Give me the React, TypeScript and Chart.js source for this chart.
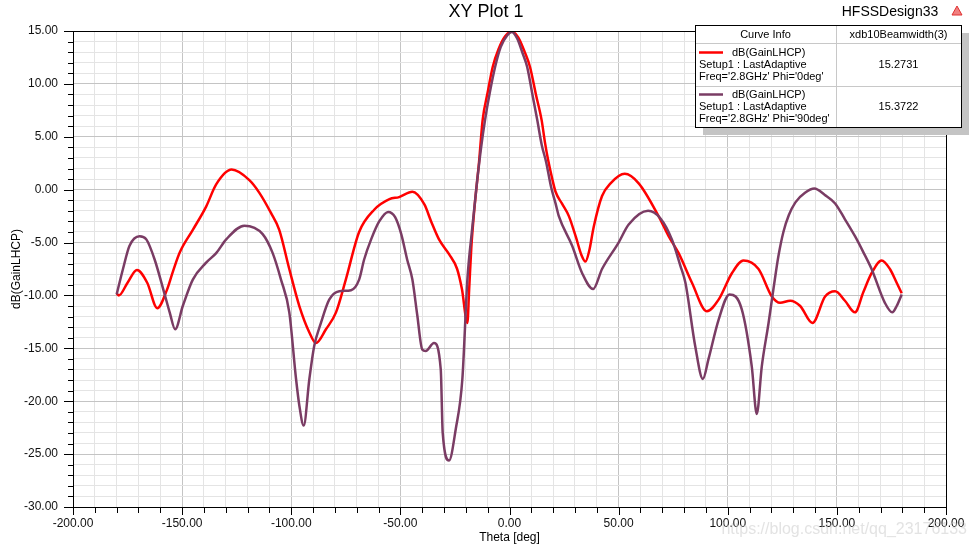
import React, { useEffect, useRef } from "react";
import { Chart, registerables } from "chart.js";

Chart.register(...registerables);

// Phi = 0deg curve (red)
const thetaRed = [
  -180, -179, -175, -170.7, -166, -161.4, -157, -154, -151, -145.1, -139, -134.4, -127.3, -119.2, -114.6,
  -109.3, -105.5, -100.9, -96.3, -91.7, -88.7, -84.1, -79.5, -75, -68.9, -62, -55, -50.6, -44.5,
  -39, -35.9, -32.3, -27.7, -24, -21.8, -19.3, -18.5, -17.5, -16, -14, -12.3, -10, -7.7, -5, -2, 1,
  4, 7, 9.4, 12.1, 14.7, 16.3, 17.7, 19.5, 21.1, 24, 27.2, 30.3, 33, 34.8, 36.5, 38.6, 42.4, 46.3,
  52.8, 59.2, 68.3, 72.9, 77.5, 83.6, 90.4, 95.8, 101.9, 107.2, 114.1, 120.2, 124, 128.6, 133.2,
  138.8, 144.6, 149.2, 153.7, 158.3, 162.1, 165.9, 170.5, 174.3, 177.4, 179.7,
];
const gainRed = [
  -9.8, -10.0, -8.8, -7.6, -8.8, -11.2, -9.5, -7.6, -5.9, -3.8, -1.6, 0.5, 1.9, 0.9, -0.3,
  -2.2, -3.8, -7.5, -11.0, -13.5, -14.5, -13.2, -11.6, -8.5, -4.0, -1.9, -0.9, -0.7, -0.2,
  -1.4, -3.0, -4.7, -6.1, -7.5, -9.4, -12.6, -9.5, -5.5, -1.6, 2.5, 6.6, 9.2, 11.6, 13.3, 14.5, 14.95,
  14.4, 13.0, 11.6, 9.0, 6.6, 4.4, 2.8, 1.1, -0.2, -1.3, -2.5, -4.4, -6.2, -6.8, -5.8, -3.5, -0.6, 0.6,
  1.5, 0.6, -2.5, -4.4, -6.0, -8.8, -11.5, -10.4, -7.9, -6.7, -7.5, -10.1, -10.7, -10.5, -11.0,
  -12.6, -10.1, -9.6, -10.5, -11.6, -9.7, -7.9, -6.7, -7.5, -8.8, -9.8,
];

// Phi = 90deg curve (purple)
const thetaPurple = [
  -180, -177.1, -174.1, -169.5, -166.4, -162.6, -158, -155.7, -153.2, -149.7, -145.1, -139, -134.4,
  -129.8, -121.5, -113.1, -108.5, -104.7, -100.9, -97.8, -96.3, -94.3, -91.7, -89.5, -86.4, -82.6,
  -78, -72.6, -68.9, -66.6, -63.4, -59.7, -55.6, -52.4, -49.6, -46.9, -44.5, -42.3, -40, -38.4,
  -34.6, -31.5, -30.6, -27.7, -24.6, -21.6, -19.3, -17, -15, -13, -11.2, -9, -6.6, -4, -1, 1,
  3.5, 6, 8.1, 10.5, 12.7, 14.8, 16.8, 19, 21.1, 22.6, 28.7, 33.3, 38.3, 42.4, 50, 54.6, 63.5,
  69.1, 74.4, 78.3, 80.6, 85.1, 88.6, 91.2, 95.8, 100.8, 106.4, 111, 113.3, 115.6, 118.7, 121,
  123.2, 125.5, 128, 131, 135.4, 139.7, 144.5, 149.2, 153.7, 158.3, 162.1, 165.9, 172, 175.4,
  177.4, 179.7,
];
const gainPurple = [
  -9.9, -7.5, -5.3, -4.4, -4.7, -6.6, -9.9, -11.6, -13.2, -11.0, -8.5, -6.9, -6.0,
  -4.7, -3.4, -4.2, -6.0, -8.5, -11.6, -17.9, -20.4, -22.3, -17.9, -14.8, -12.6, -10.4,
  -9.6, -9.5, -8.5, -6.6, -4.7, -3.0, -2.1, -2.6, -4.2, -6.6, -8.5, -11.8, -15.1, -15.25,
  -14.5, -17.0, -23.0, -25.6, -22.6, -17.9, -8.5, -3.5, 0.5, 4.0, 6.6, 9.2, 11.6, 13.5, 14.6, 14.9,
  14.3, 12.9, 11.6, 9.0, 6.6, 4.2, 2.6, 0.3, -1.3, -2.5, -5.3, -7.9, -9.4, -7.5, -5.0, -3.3, -2.0,
  -2.7, -4.7, -7.2, -8.8, -14.8, -17.9, -16.0, -12.3, -9.9, -11.3, -16.7, -21.2, -16.7, -12.6, -9.3,
  -6.3, -4.0, -2.4, -1.2, -0.3, 0.1, -0.5, -1.3, -2.8, -4.4, -5.9, -7.5, -10.7, -11.6,
  -11.0, -9.9,
];

const xTicksMin = -200;
const xTicksMax = 200;
const yTicksMin = -30;
const yTicksMax = 15;

const curveNames = ["dB(GainLHCP)", "dB(GainLHCP)"];
const curveSetups = ["Setup1 : LastAdaptive", "Setup1 : LastAdaptive"];
const curveFreqs = ["Freq='2.8GHz' Phi='0deg'", "Freq='2.8GHz' Phi='90deg'"];
const beamwidths = ["15.2731", "15.3722"];

const RED = "#ff0000";
const PURPLE = "#7a3c64";
const FONT = "'Liberation Sans', Arial, sans-serif";

const decorPlugin = {
  id: "decor",
  afterDraw(chart: any) {
    const ctx = chart.ctx as CanvasRenderingContext2D;
    const { left, right, top, bottom } = chart.chartArea;
    const xs = chart.scales.x;
    const ys = chart.scales.y;
    ctx.save();
    // frame
    ctx.strokeStyle = "#000";
    ctx.lineWidth = 1;
    ctx.beginPath();
    ctx.moveTo(Math.round(left) + 0.5, Math.round(top) + 0.5);
    ctx.lineTo(Math.round(right) + 0.5, Math.round(top) + 0.5);
    ctx.lineTo(Math.round(right) + 0.5, Math.round(bottom) + 0.5);
    ctx.lineTo(Math.round(left) + 0.5, Math.round(bottom) + 0.5);
    ctx.closePath();
    ctx.stroke();
    // tick marks
    ctx.beginPath();
    for (let v = yTicksMin; v <= yTicksMax; v++) {
      const y = Math.round(ys.getPixelForValue(v)) + 0.5;
      const len = v % 5 === 0 ? 9 : 5;
      ctx.moveTo(Math.round(left) - len, y);
      ctx.lineTo(Math.round(left), y);
    }
    for (let v = xTicksMin; v <= xTicksMax; v += 10) {
      const x = Math.round(xs.getPixelForValue(v)) + 0.5;
      const len = v % 50 === 0 ? 7 : 5;
      ctx.moveTo(x, Math.round(bottom) + 1);
      ctx.lineTo(x, Math.round(bottom) + 1 + len);
    }
    ctx.stroke();

    // titles
    ctx.fillStyle = "#000";
    ctx.textAlign = "center";
    ctx.textBaseline = "middle";
    ctx.font = `18px ${FONT}`;
    ctx.fillText("XY Plot 1", 486, 12);
    ctx.font = `14px ${FONT}`;
    ctx.fillText("HFSSDesign33", 890, 12);
    ctx.font = `12px ${FONT}`;
    ctx.fillText("Theta [deg]", xs.getPixelForValue(0), 538);
    ctx.save();
    ctx.translate(17, (top + bottom) / 2);
    ctx.rotate(-Math.PI / 2);
    ctx.fillText("dB(GainLHCP)", 0, 0);
    ctx.restore();

    // small red icon
    ctx.strokeStyle = "#e03030";
    ctx.fillStyle = "#f08080";
    ctx.beginPath();
    ctx.moveTo(957, 6);
    ctx.lineTo(962, 15);
    ctx.lineTo(952, 15);
    ctx.closePath();
    ctx.fill();
    ctx.stroke();

    // legend table
    const bx = 695, by = 25, bw = 266, bh = 102;
    const colX = 836;
    const r1 = 43, r2 = 86;
    ctx.fillStyle = "#c4c4c4";
    ctx.fillRect(bx + 8, by + 8, bw, bh);
    ctx.fillStyle = "#fff";
    ctx.fillRect(bx, by, bw, bh);
    ctx.strokeStyle = "#c8c8c8";
    ctx.beginPath();
    ctx.moveTo(bx, r1 + 0.5);
    ctx.lineTo(bx + bw, r1 + 0.5);
    ctx.moveTo(bx, r2 + 0.5);
    ctx.lineTo(bx + bw, r2 + 0.5);
    ctx.moveTo(colX + 0.5, by);
    ctx.lineTo(colX + 0.5, by + bh);
    ctx.stroke();
    ctx.strokeStyle = "#000";
    ctx.strokeRect(bx + 0.5, by + 0.5, bw, bh);

    ctx.fillStyle = "#000";
    ctx.font = `11px ${FONT}`;
    ctx.textAlign = "center";
    ctx.fillText("Curve Info", (bx + colX) / 2, 34.5);
    ctx.fillText("xdb10Beamwidth(3)", (colX + bx + bw) / 2, 34.5);
    const rows = [
      { y0: 52.5, color: RED },
      { y0: 94.5, color: PURPLE },
    ];
    rows.forEach((r, i) => {
      ctx.strokeStyle = r.color;
      ctx.lineWidth = 2.5;
      ctx.beginPath();
      ctx.moveTo(699, r.y0);
      ctx.lineTo(723, r.y0);
      ctx.stroke();
      ctx.fillStyle = "#000";
      ctx.textAlign = "left";
      ctx.fillText(curveNames[i], 732, r.y0);
      ctx.fillText(curveSetups[i], 699, r.y0 + 12);
      ctx.fillText(curveFreqs[i], 699, r.y0 + 24);
      ctx.textAlign = "center";
      ctx.fillText(beamwidths[i], (colX + bx + bw) / 2, r.y0 + 12);
    });

    // watermark
    ctx.fillStyle = "rgba(200,200,200,0.5)";
    ctx.font = `16px ${FONT}`;
    ctx.textAlign = "right";
    ctx.fillText("https://blog.csdn.net/qq_23176133", 967, 530);
    ctx.restore();
  },
};

export default function App() {
  const ref = useRef<HTMLCanvasElement | null>(null);
  useEffect(() => {
    if (!ref.current) return;
    const chart = new Chart(ref.current, {
      type: "line",
      data: {
        datasets: [
          {
            label: "Phi=0deg",
            data: thetaRed.map((t, i) => ({ x: t, y: gainRed[i] })),
            borderColor: RED,
            borderWidth: 2.5,
            pointRadius: 0,
            cubicInterpolationMode: "monotone",
            fill: false,
            order: 2,
          },
          {
            label: "Phi=90deg",
            data: thetaPurple.map((t, i) => ({ x: t, y: gainPurple[i] })),
            borderColor: PURPLE,
            borderWidth: 2.5,
            pointRadius: 0,
            cubicInterpolationMode: "monotone",
            fill: false,
            order: 1,
          },
        ],
      },
      options: {
        responsive: false,
        animation: false,
        layout: { padding: { top: 31, right: 30, left: 0, bottom: 0 } },
        plugins: { legend: { display: false }, tooltip: { enabled: false }, title: { display: false } },
        scales: {
          x: {
            type: "linear",
            min: xTicksMin,
            max: xTicksMax,
            afterFit: (s: any) => {
              s.height = 42;
            },
            ticks: {
              stepSize: 10,
              autoSkip: false,
              maxRotation: 0,
              padding: 9,
              color: "#111",
              font: { family: FONT, size: 12 },
              callback: (v: any) => (Number(v) % 50 === 0 ? Number(v).toFixed(2) : ""),
            },
            grid: {
              drawTicks: false,
              color: (c: any) => (c.tick && c.tick.value % 50 === 0 ? "#c4c4c4" : "#e4e4e4"),
            },
            border: { color: "#000", width: 1 },
          },
          y: {
            type: "linear",
            min: yTicksMin,
            max: yTicksMax,
            afterFit: (s: any) => {
              s.width = 73;
            },
            ticks: {
              stepSize: 1,
              autoSkip: false,
              padding: 15,
              color: "#111",
              font: { family: FONT, size: 12 },
              callback: (v: any) => (Number(v) % 5 === 0 ? Number(v).toFixed(2) : ""),
            },
            grid: {
              drawTicks: false,
              color: (c: any) => (c.tick && c.tick.value % 5 === 0 ? "#c4c4c4" : "#e4e4e4"),
            },
            border: { color: "#000", width: 1 },
          },
        },
      },
      plugins: [decorPlugin],
    });
    return () => chart.destroy();
  }, []);
  return (
    <div style={{ position: "fixed", left: 0, top: 0, width: 976, height: 549, background: "#fff" }}>
      <canvas ref={ref} width={976} height={549} style={{ display: "block" }} />
    </div>
  );
}
